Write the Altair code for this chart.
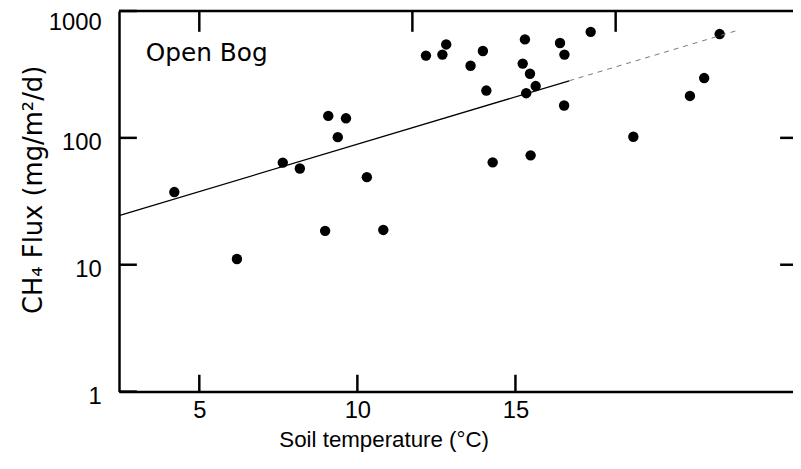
import altair as alt
import pandas as pd

# Soil temperature (°C) and CH4 flux (mg/m2/d)
temp = [4.21, 6.19, 7.64, 8.18, 9.08, 9.64, 9.38, 10.30, 8.98, 10.82,
        12.17, 12.69, 12.81, 13.58, 13.97, 14.08, 14.28, 15.30, 15.23, 15.46,
        15.64, 15.34, 15.48, 16.41, 16.55, 16.54, 17.38, 18.73, 20.52, 20.97, 21.46]
flux = [37.4, 11.1, 63.8, 57.3, 149, 142.6, 101.3, 49.0, 18.5, 18.8,
        445, 453, 545, 370, 484, 236, 64.1, 597, 385, 320,
        256, 225, 72.8, 559, 453, 180, 685, 102, 214, 296, 658]

# regression line log10(flux) = a + b * temp
fit_a = 1.204
fit_b = 0.0746
solid_x = [2.46, 16.7]
faint_x = [16.7, 22.08]

x_domain = [2.46, 23.78]
y_domain = [1, 1000]
x_ticks = [5, 10, 15]
top_ticks = [5.0, 11.74, 18.17]
y_ticks = [1, 10, 100, 1000]
right_ticks = [10, 100]
panel_label = ["Open Bog"]

W, H = 680, 384

xs = alt.Scale(domain=x_domain, nice=False, zero=False)
ys = alt.Scale(type="log", domain=y_domain, nice=False)

pts = pd.DataFrame({"temp": temp, "flux": flux})
solid = pd.DataFrame({"temp": solid_x, "flux": [10 ** (fit_a + fit_b * t) for t in solid_x]})
faint = pd.DataFrame({"temp": faint_x, "flux": [10 ** (fit_a + fit_b * t) for t in faint_x]})

x_axis = alt.Axis(values=x_ticks, ticks=False, tickSize=0, grid=False,
                  domainColor="black", domainWidth=2.5, format="d",
                  labelFont="Liberation Sans", labelFontSize=24, labelColor="black",
                  labelPadding=7, labelFlush=False,
                  title="Soil temperature (°C)", titleFont="Liberation Sans",
                  titleFontSize=22.5, titleFontWeight="normal", titleColor="black",
                  titleX=267, titleY=55, titleBaseline="alphabetic", titleAlign="center")
y_axis = alt.Axis(values=y_ticks, ticks=False, tickSize=0, grid=False,
                  domainColor="black", domainWidth=2.5, format="d",
                  labelFont="Liberation Sans", labelFontSize=24, labelColor="black",
                  labelPadding=18,
                  labelOffset={"condition": {"test": "datum.value >= 1000", "value": 12}, "value": 5},
                  labelFlush=False, labelOverlap=False,
                  title="CH₄ Flux (mg/m²/d)", titleFont="DejaVu Sans",
                  titleFontSize=26, titleFontWeight="normal", titleColor="black",
                  titleX=-78, titleY=180, titleBaseline="alphabetic", titleAlign="center")


def X(field="temp"):
    return alt.X(f"{field}:Q", scale=xs, axis=x_axis)


def Y(field="flux"):
    return alt.Y(f"{field}:Q", scale=ys, axis=y_axis)


points = alt.Chart(pts).mark_circle(size=110, color="black", opacity=1).encode(x=X(), y=Y())

line1 = alt.Chart(solid).mark_line(color="black", strokeWidth=1.3).encode(x=X(), y=Y())
line2 = alt.Chart(faint).mark_line(color="#777777", strokeWidth=1, strokeDash=[5, 5]).encode(x=X(), y=Y())

left_t = alt.Chart(pd.DataFrame({"flux": y_ticks})).mark_rule(color="black", strokeWidth=2.5).encode(
    y=Y(), x=alt.value(0), x2=alt.value(18))
right_t = alt.Chart(pd.DataFrame({"flux": right_ticks})).mark_rule(color="black", strokeWidth=2.5).encode(
    y=Y(), x=alt.value(W - 13), x2=alt.value(W))
bottom_t = alt.Chart(pd.DataFrame({"temp": x_ticks})).mark_rule(color="black", strokeWidth=2.5).encode(
    x=X(), y=alt.value(H), y2=alt.value(H - 17))
top_t = alt.Chart(pd.DataFrame({"temp": top_ticks})).mark_rule(color="black", strokeWidth=2.5).encode(
    x=X(), y=alt.value(0), y2=alt.value(21))
top_frame = alt.Chart(pd.DataFrame({"k": [0]})).mark_rule(color="black", strokeWidth=2.5).encode(
    x=alt.value(0), x2=alt.value(W), y=alt.value(0))

label = alt.Chart(pd.DataFrame({"label": panel_label})).mark_text(
    align="left", baseline="alphabetic", font="DejaVu Sans", fontSize=25, color="black"
).encode(x=alt.value(27), y=alt.value(50), text="label:N")

chart = alt.layer(points, line1, line2, left_t, right_t, bottom_t, top_t, top_frame, label).properties(
    width=W, height=H,
    padding={"left": 112, "top": 1, "right": 0, "bottom": 68},
    autosize=alt.AutoSizeParams(type="none"),
).configure_view(strokeWidth=0).configure(background="white")

chart.save("out.html", embed_options={"renderer": "svg", "actions": False})
